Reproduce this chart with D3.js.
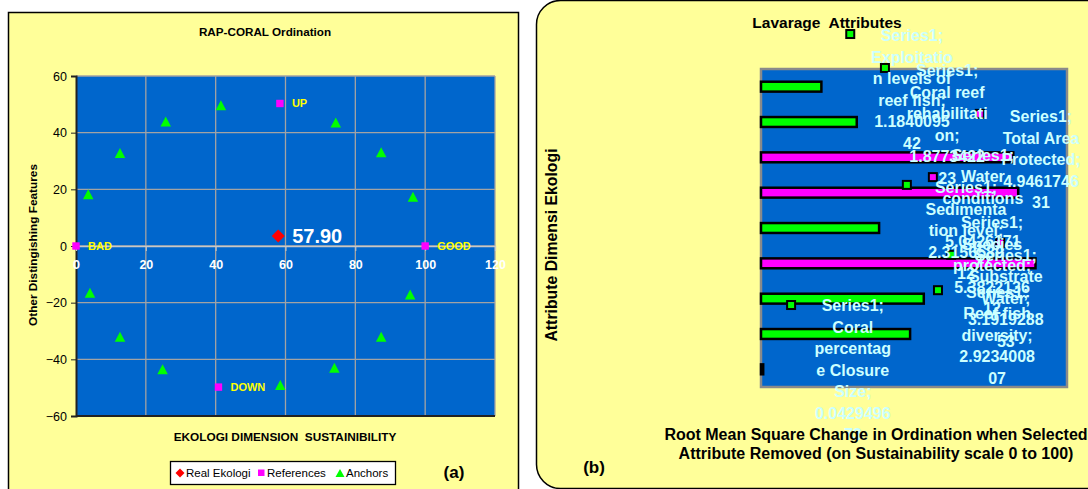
<!DOCTYPE html>
<html>
<head>
<meta charset="utf-8">
<script src="https://cdn.jsdelivr.net/npm/d3@7"></script>
<style>
  body { margin: 0; background: #fff; }
  svg { display: block; font-family: "Liberation Sans", Arial, sans-serif; }
</style>
</head>
<body>
<svg id="chart" width="1088" height="489"></svg>
<script>
// ---- (a) RAP-CORAL ordination
var realLabel = ['57.90'];
var realX = [57.90];
var realY = [3.5];
var refNames = ['BAD', 'GOOD', 'UP', 'DOWN'];
var refX = [0, 100, 58.4, 40.8];
var refY = [0, 0, 50.3, -49.8];
var anchorX = [3.5, 12.6, 25.7, 41.5, 74.4, 87.4, 96.5, 4.0, 12.6, 24.8, 58.5, 74.0, 87.4, 95.7];
var anchorY = [18.3, 32.8, 43.9, 49.7, 43.6, 33.1, 17.4, -16.5, -32.0, -43.5, -49.1, -43.0, -32.0, -17.1];
var ordXTicks = [0, 20, 40, 60, 80, 100, 120];
var ordYTicks = [-60, -40, -20, 0, 20, 40, 60];
var legendNames = ['Real Ekologi', 'References', 'Anchors'];

// ---- (b) leverage of attributes
var attrNames = ['Exploitation levels of reef fish', 'Coral reef rehabilitation', 'Total Area Protected',
  'Water conditions', 'Sedimentation level', 'Species protected', 'Substrate Water',
  'Reef fish diversity', 'Coral percentage Closure Size'];
var attrValues = [1.184009542, 1.877342223, 4.946174631, 5.042617177, 2.315658912,
  5.382213612, 3.191928853, 2.923400807, 0.042949673];
var attrHigh = [0, 0, 1, 1, 0, 1, 0, 0, 0];
var seriesName = 'Series1';

// where the (dragged) data labels sit: x in value units, y in row units
var labelX = [2.96, 3.65, 5.49, 4.35, 4.02, 4.53, 4.80, 4.63, 1.80];
var labelRow = [-0.79, 0.20, 1.50, 2.60, 3.51, 4.50, 5.43, 6.48, 6.85];
var keyX = [1.75, 2.43, 4.29, 3.37, 2.86, 4.69, 3.73, 3.47, 0.59];
var keyRow = [-0.99, -0.03, 1.27, 3.06, 3.28, 4.92, 5.26, 6.26, 6.68];

var YELLOW = '#ffff99', BLUE = '#0066cc', GREEN = '#00ff00', PINK = '#ff00ff';
var svg = d3.select('#chart');

// =================== panel (a)
var pa = svg.append('g');
pa.append('rect').attr('x', 8.5).attr('y', 12.5).attr('width', 510).attr('height', 500)
  .attr('fill', YELLOW).attr('stroke', '#000').attr('stroke-width', 1.5);

var ox = d3.scaleLinear().domain([0, 120]).range([76, 495]);
var oy = d3.scaleLinear().domain([-60, 60]).range([416, 76]);

pa.append('rect').attr('x', ox(0)).attr('y', oy(60)).attr('width', ox(120) - ox(0))
  .attr('height', oy(-60) - oy(60)).attr('fill', BLUE);

// grid
pa.append('g').selectAll('line').data(ordXTicks.slice(1)).join('line')
  .attr('x1', function(d){ return ox(d); }).attr('x2', function(d){ return ox(d); })
  .attr('y1', oy(60)).attr('y2', oy(-60))
  .attr('stroke', '#a3a3a3').attr('stroke-width', 1.3);
pa.append('g').selectAll('line').data(ordYTicks).join('line')
  .attr('x1', ox(0)).attr('x2', ox(120))
  .attr('y1', function(d){ return oy(d); }).attr('y2', function(d){ return oy(d); })
  .attr('stroke', '#a3a3a3').attr('stroke-width', 1.3);
pa.append('line').attr('x1', ox(0)).attr('x2', ox(120)).attr('y1', oy(-60)).attr('y2', oy(-60))
  .attr('stroke', '#222').attr('stroke-width', 2);

// y axis
var yAx = pa.append('g').attr('transform', 'translate(' + ox(0) + ',0)')
  .call(d3.axisLeft(oy).tickValues(ordYTicks).tickSize(5).tickPadding(4));
yAx.select('.domain').attr('stroke', '#222').attr('stroke-width', 2);
yAx.selectAll('.tick line').attr('stroke', '#222');
yAx.selectAll('text').attr('font-size', 12.5).attr('fill', '#000')
  .attr('font-family', '"Liberation Sans", Arial, sans-serif');

// x axis crosses at y = 0
var xAx = pa.append('g').attr('transform', 'translate(0,' + oy(0) + ')')
  .call(d3.axisBottom(ox).tickValues(ordXTicks).tickSize(5).tickPadding(9));
xAx.select('.domain').attr('stroke', '#c8c8c8').attr('stroke-width', 1.3);
xAx.selectAll('.tick line').attr('stroke', '#c8c8c8');
xAx.selectAll('text').attr('font-size', 12.5).attr('font-weight', 'bold').attr('fill', '#fff')
  .attr('font-family', '"Liberation Sans", Arial, sans-serif');

// markers
function triPath(cx, cy, w, h) {
  return 'M' + cx + ',' + (cy - h / 2) + 'L' + (cx + w / 2) + ',' + (cy + h / 2) + 'L' + (cx - w / 2) + ',' + (cy + h / 2) + 'Z';
}
function diaPath(cx, cy, r) {
  return 'M' + cx + ',' + (cy - r) + 'L' + (cx + r) + ',' + cy + 'L' + cx + ',' + (cy + r) + 'L' + (cx - r) + ',' + cy + 'Z';
}
pa.append('g').selectAll('path').data(anchorX).join('path')
  .attr('d', function(d, i){ return triPath(ox(d), oy(anchorY[i]), 10.5, 10); })
  .attr('fill', GREEN);
pa.append('g').selectAll('rect').data(refX).join('rect')
  .attr('x', function(d){ return ox(d) - 3.7; })
  .attr('y', function(d, i){ return oy(refY[i]) - 3.7; })
  .attr('width', 7.4).attr('height', 7.4).attr('fill', PINK);
pa.append('g').selectAll('text').data(refNames).join('text')
  .attr('x', function(d, i){ return ox(refX[i]) + 12; })
  .attr('y', function(d, i){ return oy(refY[i]) + 4; })
  .attr('font-size', 11).attr('font-weight', 'bold').attr('fill', '#ffff00')
  .text(function(d){ return d; });
pa.append('g').selectAll('path').data(realX).join('path')
  .attr('d', function(d, i){ return diaPath(ox(d), oy(realY[i]), 6.5); })
  .attr('fill', '#ff0000');
pa.append('g').selectAll('text').data(realLabel).join('text')
  .attr('x', function(d, i){ return ox(realX[i]) + 14; })
  .attr('y', function(d, i){ return oy(realY[i]) + 7; })
  .attr('font-size', 20).attr('font-weight', 'bold').attr('fill', '#fff')
  .text(function(d){ return d; });

// titles
pa.append('text').attr('x', 265).attr('y', 36).attr('text-anchor', 'middle')
  .attr('font-size', 11.7).attr('font-weight', 'bold').text('RAP-CORAL Ordination');
pa.append('text').attr('x', 285).attr('y', 441).attr('text-anchor', 'middle')
  .attr('font-size', 11.8).attr('font-weight', 'bold').style('white-space', 'pre')
  .text('EKOLOGI DIMENSION  SUSTAINIBILITY');
pa.append('text').attr('transform', 'translate(37,245) rotate(-90)').attr('text-anchor', 'middle')
  .attr('font-size', 11.8).attr('font-weight', 'bold').text('Other Distingishing Features');

// legend
var lg = pa.append('g');
lg.append('rect').attr('x', 170.5).attr('y', 461.5).attr('width', 225).attr('height', 23)
  .attr('fill', '#fff').attr('stroke', '#000').attr('stroke-width', 1.3);
lg.append('path').attr('d', diaPath(180, 473, 4.5)).attr('fill', '#ff0000');
lg.append('rect').attr('x', 258).attr('y', 469.5).attr('width', 6.5).attr('height', 6.5).attr('fill', PINK);
lg.append('path').attr('d', triPath(340, 473, 9, 8)).attr('fill', GREEN);
var legX = [186, 267, 346];
lg.selectAll('text').data(legendNames).join('text')
  .attr('x', function(d, i){ return legX[i]; }).attr('y', 477)
  .attr('font-size', 11.5).text(function(d){ return d; });
pa.append('text').attr('x', 454).attr('y', 478).attr('text-anchor', 'middle')
  .attr('font-size', 17).attr('font-weight', 'bold').text('(a)');

// =================== panel (b)
var pb = svg.append('g');
pb.append('rect').attr('x', 536.5).attr('y', 0.5).attr('width', 600).attr('height', 488)
  .attr('rx', 24).attr('fill', YELLOW).attr('stroke', '#000').attr('stroke-width', 1.5);

var lx = d3.scaleLinear().domain([0, 6]).range([761, 1067]);
var rowY = d3.scaleLinear().domain([0, attrNames.length]).range([69, 387]);
var ly = d3.scaleBand().domain(attrNames).range([69, 387]).paddingInner(0.72).paddingOuter(0.36);

pb.append('rect').attr('x', lx(0)).attr('y', rowY(0)).attr('width', lx(6) - lx(0))
  .attr('height', rowY(attrNames.length) - rowY(0))
  .attr('fill', BLUE).attr('stroke', '#8a8a8a').attr('stroke-width', 2.5);

pb.append('g').selectAll('rect').data(attrValues).join('rect')
  .attr('x', lx(0))
  .attr('y', function(d, i){ return ly(attrNames[i]); })
  .attr('width', function(d){ return lx(d) - lx(0); })
  .attr('height', ly.bandwidth())
  .attr('fill', function(d, i){ return attrHigh[i] ? PINK : GREEN; })
  .attr('stroke', '#000').attr('stroke-width', 2.5);

// legend keys of the data labels
pb.append('g').selectAll('rect').data(keyX).join('rect')
  .attr('x', function(d){ return lx(d) - 4; })
  .attr('y', function(d, i){ return rowY(keyRow[i]) - 4; })
  .attr('width', 8).attr('height', 8)
  .attr('fill', function(d, i){ return attrHigh[i] ? PINK : GREEN; })
  .attr('stroke', '#000').attr('stroke-width', 2);

// wrapped data labels
var LABEL_FS = 16, LINE_H = 21.5, WRAP_W = 83;
var probe = svg.append('text').attr('font-size', LABEL_FS).attr('font-weight', 'bold')
  .attr('x', -999).attr('y', -999);
function measure(s) { probe.text(s); return probe.node().getComputedTextLength(); }
function wrapLines(str) {
  var words = str.split(' '), lines = [], cur = '';
  words.forEach(function(w) {
    var test = cur ? cur + ' ' + w : w;
    if (measure(test) <= WRAP_W) { cur = test; return; }
    if (cur) { lines.push(cur); cur = ''; }
    while (measure(w) > WRAP_W) {
      var k = w.length - 1;
      while (k > 1 && measure(w.slice(0, k)) > WRAP_W) k--;
      lines.push(w.slice(0, k));
      w = w.slice(k);
    }
    cur = w;
  });
  if (cur) lines.push(cur);
  return lines;
}
var labG = pb.append('g');
attrNames.forEach(function(name, i) {
  var lines = wrapLines(seriesName + '; ' + name + '; ' + attrValues[i]);
  var t = labG.append('text').attr('text-anchor', 'middle')
    .attr('font-size', LABEL_FS).attr('font-weight', 'bold').attr('fill', '#ccffff');
  lines.forEach(function(l, j) {
    t.append('tspan').attr('x', lx(labelX[i])).attr('y', rowY(labelRow[i]) + j * LINE_H).text(l);
  });
});
probe.remove();

// titles
pb.append('text').attr('x', 827).attr('y', 28).attr('text-anchor', 'middle')
  .attr('font-size', 15.5).attr('font-weight', 'bold').style('white-space', 'pre')
  .text('Lavarage  Attributes');
pb.append('text').attr('transform', 'translate(557,245) rotate(-90)').attr('text-anchor', 'middle')
  .attr('font-size', 15.8).attr('font-weight', 'bold').text('Attribute Dimensi Ekologi');
pb.append('text').attr('x', 876).attr('y', 440).attr('text-anchor', 'middle')
  .attr('font-size', 16).attr('font-weight', 'bold')
  .text('Root Mean Square Change in Ordination when Selected');
pb.append('text').attr('x', 876).attr('y', 459).attr('text-anchor', 'middle')
  .attr('font-size', 16).attr('font-weight', 'bold')
  .text('Attribute Removed (on Sustainability scale 0 to 100)');
pb.append('text').attr('x', 594).attr('y', 473).attr('text-anchor', 'middle')
  .attr('font-size', 17).attr('font-weight', 'bold').text('(b)');
</script>
</body>
</html>
